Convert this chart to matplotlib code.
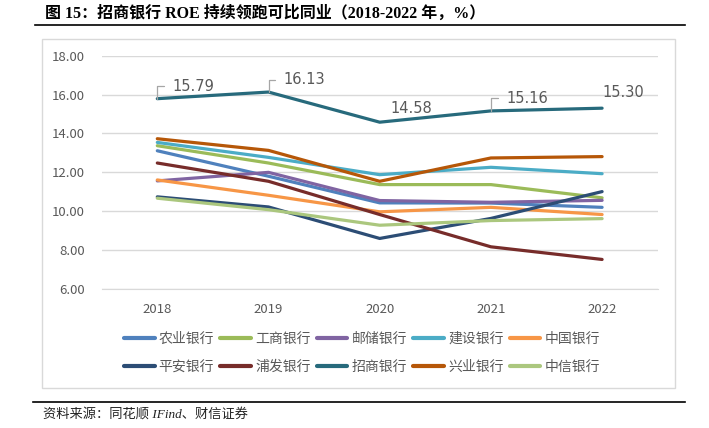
import matplotlib
matplotlib.use('Agg')
import matplotlib.pyplot as plt
from matplotlib.patches import Rectangle
from matplotlib.lines import Line2D

plt.rcParams['font.family'] = ['Noto Sans CJK SC', 'DejaVu Sans']

years = ['2018', '2019', '2020', '2021', '2022']
banks = ['农业银行', '工商银行', '邮储银行', '建设银行', '中国银行',
         '平安银行', '浦发银行', '招商银行', '兴业银行', '中信银行']
roe = {
    '农业银行': [13.11, 11.80, 10.43, 10.42, 10.20],
    '工商银行': [13.37, 12.48, 11.37, 11.37, 10.69],
    '邮储银行': [11.56, 12.00, 10.55, 10.46, 10.56],
    '建设银行': [13.54, 12.77, 11.88, 12.26, 11.93],
    '中国银行': [11.61, 10.82, 9.97, 10.20, 9.83],
    '平安银行': [10.74, 10.22, 8.60, 9.63, 11.01],
    '浦发银行': [12.48, 11.54, 9.83, 8.17, 7.52],
    '招商银行': [15.79, 16.13, 14.58, 15.16, 15.30],
    '兴业银行': [13.73, 13.13, 11.54, 12.74, 12.81],
    '中信银行': [10.67, 10.08, 9.28, 9.52, 9.62],
}
colors = ['#4F81BD', '#9BBB59', '#8064A2', '#4BACC6', '#F79646',
          '#2C4D75', '#772C2A', '#276A7C', '#B65708', '#ABC77E']

W, H = 709, 428
fig = plt.figure(figsize=(W / 100, H / 100), dpi=100)

# chart frame
fig.patches.append(Rectangle((41.7 / W, 1 - 388 / H), (675 - 41.7) / W, (388 - 39) / H,
                             transform=fig.transFigure, fill=False, edgecolor='#D9D9D9', lw=1))

ax = fig.add_axes([101.7 / W, 1 - 289 / H, 556 / W, (289 - 55.7) / H])
x = list(range(len(years)))
for name, c in zip(banks, colors):
    ax.plot(x, roe[name], color=c, lw=2.3, label=name, solid_capstyle='round')

ax.set_xlim(-0.5, 4.5)
ax.set_ylim(6, 18)
ax.set_yticks([6, 8, 10, 12, 14, 16, 18])
ax.set_yticklabels([f'{v:.2f}' for v in [6, 8, 10, 12, 14, 16, 18]])
ax.set_xticks(x)
ax.set_xticklabels(years)
ax.tick_params(length=0, labelsize=9.5, colors='#595959')
ax.tick_params(axis='x', pad=10)
ax.tick_params(axis='y', pad=12)
ax.grid(axis='y', color='#D9D9D9', lw=1)
ax.set_axisbelow(True)
for s in ax.spines.values():
    s.set_visible(False)
ax.spines['bottom'].set_visible(True)
ax.spines['bottom'].set_color('#D9D9D9')

# data labels for 招商银行
zs = roe['招商银行']
label_off = [(11, 9, True), (11, 9, True), (8, 10, False), (11, 9, True), (0, 11, False)]
for i, (dx, dy, leader) in enumerate(label_off):
    if leader:
        ax.annotate(f'{zs[i]:.2f}', xy=(i, zs[i]), xytext=(dx, dy), textcoords='offset points',
                    ha='left', va='center', fontsize=10.5, color='#595959',
                    family=['DejaVu Sans'],
                    arrowprops=dict(arrowstyle='-', color='#A6A6A6', lw=0.9,
                                    connectionstyle='angle,angleA=180,angleB=90,rad=0',
                                    relpos=(0, 0.5), shrinkA=4, shrinkB=0))
    else:
        ax.annotate(f'{zs[i]:.2f}', xy=(i, zs[i]), xytext=(dx, dy), textcoords='offset points',
                    ha='left', va='center', fontsize=10.5, color='#595959',
                    family=['DejaVu Sans'])

# legend fills column by column, so interleave the two rows
handles = [Line2D([0], [0], color=c, lw=3, solid_capstyle='round') for c in colors]
order = [j * 5 + i for i in range(5) for j in range(2)]
leg = fig.legend([handles[k] for k in order], [banks[k] for k in order], loc='center',
                 bbox_to_anchor=(362 / W, 1 - 353 / H),
                 ncol=5, frameon=False, fontsize=10, handlelength=2.2, handletextpad=0.3,
                 columnspacing=0.45, labelspacing=1.05)
for t in leg.get_texts():
    t.set_color('#595959')

# title and footer
fig.text(45 / W, 1 - 14 / H, '图 15：招商银行 ROE 持续领跑可比同业（2018-2022 年，%）',
         fontsize=11.5, fontweight='bold', va='center', ha='left',
         family=['Liberation Serif', 'Noto Sans CJK SC'])
fig.add_artist(Line2D([35 / W, 685 / W], [1 - 25 / H, 1 - 25 / H], color='black', lw=1.2,
                      transform=fig.transFigure))
fig.add_artist(Line2D([33 / W, 685 / W], [1 - 402 / H, 1 - 402 / H], color='black', lw=1.2,
                      transform=fig.transFigure))
fig.text(43 / W, 1 - 414 / H, '资料来源：同花顺 IFind、财信证券', fontsize=9.5, va='center',
         ha='left', style='italic', color='#222222',
         family=['Liberation Serif', 'Noto Sans CJK SC'])

fig.savefig('out.png', dpi=100)
